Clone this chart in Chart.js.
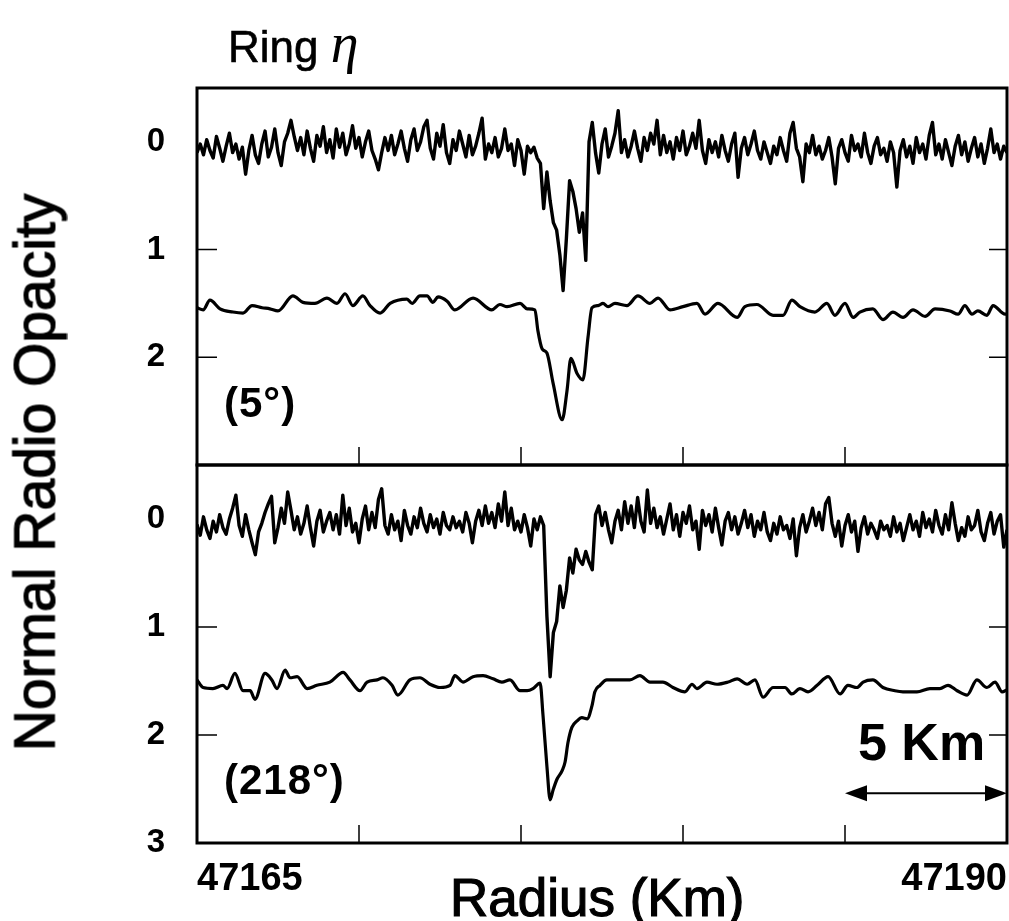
<!DOCTYPE html>
<html>
<head>
<meta charset="utf-8">
<title>Ring eta - normal radio opacity</title>
<script src="https://cdn.jsdelivr.net/npm/chart.js@4.4.1/dist/chart.umd.min.js"></script>
<style>
    body {
        margin: 0;
        width: 1009px;
        height: 921px;
        overflow: hidden;
        position: relative;
        background: #fff;
        color: #000;
        font-family: "Liberation Sans", Arial, sans-serif;
    }
    canvas { position: absolute; left: 0; }
    #topPanel { top: 0; }
    #bottomPanel { top: 440px; }
    .txt { position: absolute; white-space: nowrap; line-height: 1; }
    #ringTitle { left: 228px; top: 15px; font-size: 44px; -webkit-text-stroke: 0.6px #000; }
    #ringTitle i { font-family: "Liberation Serif", serif; font-size: 56px; -webkit-text-stroke: 0; }
    #yTitle {
        left: -315px; top: 444px; width: 700px; text-align: center;
        font-size: 57px; transform: rotate(-90deg); -webkit-text-stroke: 1.2px #000;
    }
    #xTitle { left: 450px; top: 871px; font-size: 53px; -webkit-text-stroke: 1.2px #000; }
    .panelTag { left: 224px; font-size: 42px; font-weight: bold; letter-spacing: 1px; }
    #tag5 { top: 382px; }
    #tag218 { top: 759px; }
    #barLabel { left: 858px; top: 716px; font-size: 52px; font-weight: bold; }
</style>
</head>
<body>
<canvas id="topPanel" width="1009" height="490"></canvas>
<canvas id="bottomPanel" width="1009" height="481"></canvas>

<div class="txt" id="ringTitle">Ring <i>η</i></div>
<div class="txt" id="yTitle">Normal Radio Opacity</div>
<div class="txt" id="xTitle">Radius (Km)</div>
<div class="txt panelTag" id="tag5">(5°)</div>
<div class="txt panelTag" id="tag218">(218°)</div>
<div class="txt" id="barLabel">5 Km</div>

<script>
// radius axis (km)
const radiusStart = 47165;
const radiusEnd = 47190;
const radiusTicks = [47165, 47170, 47175, 47180, 47185, 47190];
const radiusLabels = [47165, 47190];
const opacityTicksTop = [0, 1, 2];
const opacityTicksBottom = [0, 1, 2, 3];
const innerTickValues = [1, 2];

// noisy traces, sampled every 0.1 km from 47165
const noisyStep = 0.1;
const noisy5 = [
    0.10, 0.02, 0.12, -0.02, 0.08, 0.15, -0.05, 0.06, 0.18, 0.04,
    -0.08, 0.10, 0.02, 0.16, 0.05, 0.30, 0.08, -0.06, 0.12, 0.20,
    0.02, -0.10, 0.14, 0.05, -0.12, 0.10, 0.22, 0.00, -0.08, -0.20,
    -0.05, 0.08, -0.04, 0.12, -0.10, 0.06, 0.18, -0.06, 0.04, -0.14,
    0.10, -0.02, 0.15, -0.12, 0.05, -0.08, 0.12, 0.02, -0.15, 0.06,
    -0.04, 0.14, 0.00, -0.10, 0.08, 0.16, 0.26, 0.10, -0.04, 0.08,
    -0.06, 0.12, 0.02, -0.10, 0.06, 0.18, -0.02, -0.12, 0.08, 0.00,
    -0.14, -0.20, 0.06, 0.16, -0.08, 0.04, -0.16, 0.10, 0.20, -0.02,
    0.08, -0.10, 0.02, 0.14, -0.06, 0.12, 0.04, -0.08, -0.22, 0.16,
    0.02, 0.10, -0.04, 0.14, 0.06, -0.12, 0.08, 0.02, 0.22, -0.02,
    0.08, 0.30, 0.04, 0.10, 0.05, 0.15, 0.20, 0.62, 0.28, 0.55,
    0.75, 0.82, 1.05, 1.38, 0.90, 0.36, 0.46, 0.62, 0.84, 0.66,
    1.10, 0.00, -0.18, 0.10, 0.29, 0.02, -0.12, 0.14, 0.04, -0.08,
    -0.29, 0.10, -0.02, 0.14, 0.04, -0.10, 0.06, 0.18, -0.04, 0.08,
    -0.08, 0.02, -0.20, 0.12, -0.06, 0.10, 0.00, 0.16, -0.04, 0.08,
    -0.10, 0.12, 0.04, -0.08, 0.06, -0.20, 0.08, 0.20, -0.02, 0.10,
    0.00, 0.14, -0.06, 0.08, 0.18, 0.02, -0.08, 0.33, 0.06, -0.04,
    0.12, 0.02, -0.10, 0.08, 0.16, 0.00, 0.10, 0.20, 0.04, 0.12,
    -0.04, 0.08, 0.18, -0.08, -0.18, 0.06, 0.14, 0.37, 0.02, 0.10,
    -0.06, 0.12, 0.04, 0.16, 0.08, -0.04, 0.14, 0.39, 0.06, -0.02,
    0.10, 0.18, -0.06, 0.08, 0.02, 0.14, -0.08, 0.10, 0.20, 0.04,
    -0.04, 0.12, 0.06, 0.18, 0.00, 0.10, 0.42, 0.08, -0.02, 0.14,
    0.04, 0.20, -0.04, 0.10, 0.02, 0.16, -0.06, -0.18, 0.12, 0.02,
    0.16, -0.02, 0.10, 0.22, 0.04, -0.06, 0.12, 0.00, 0.18, 0.06,
    -0.04, 0.14, 0.02, 0.20, 0.06, -0.12, 0.10, 0.02, 0.16, 0.04,
    0.10
];
const noisy218 = [
    0.05, 0.15, -0.02, 0.10, 0.18, 0.02, 0.12, -0.04, 0.08, 0.14,
    0.00, -0.10, -0.22, 0.06, 0.16, -0.04, 0.10, 0.22, 0.33, 0.12,
    0.04, -0.06, -0.14, -0.21, 0.22, 0.08, -0.10, 0.04, -0.25, -0.08,
    0.10, -0.02, 0.14, 0.04, -0.12, 0.08, 0.25, 0.02, -0.08, 0.12,
    0.02, -0.06, 0.10, -0.04, 0.14, -0.22, 0.06, -0.10, 0.12, 0.04,
    0.22, 0.00, -0.12, 0.10, -0.06, 0.08, -0.18, -0.28, 0.06, 0.14,
    -0.04, 0.10, 0.02, 0.20, -0.08, 0.06, 0.14, -0.02, 0.08, -0.10,
    0.04, 0.12, -0.04, 0.08, 0.00, 0.14, -0.06, 0.06, 0.10, -0.02,
    0.08, 0.02, 0.12, -0.06, 0.04, 0.22, 0.02, -0.08, 0.06, -0.12,
    0.04, -0.06, 0.08, -0.14, 0.02, -0.25, 0.06, -0.10, 0.10, 0.02,
    0.12, -0.04, 0.08, 0.25, 0.00, 0.10, -0.02, 0.06, 0.90, 1.46,
    1.05, 0.95, 0.62, 0.82, 0.66, 0.36, 0.50, 0.28, 0.38, 0.42,
    0.30, 0.40, 0.47, -0.04, -0.12, 0.06, -0.06, 0.10, 0.22, 0.02,
    -0.08, 0.10, -0.16, 0.04, -0.12, 0.08, -0.20, 0.02, 0.12, -0.27,
    0.04, -0.10, 0.08, -0.02, 0.14, 0.00, -0.14, 0.10, -0.04, 0.16,
    -0.06, 0.04, -0.12, 0.10, 0.02, 0.28, -0.08, 0.06, -0.04, 0.12,
    -0.10, 0.08, 0.24, 0.02, -0.06, 0.10, -0.02, 0.14, 0.04, -0.08,
    0.08, -0.04, 0.16, 0.02, 0.10, -0.06, 0.12, 0.20, 0.04, 0.14,
    -0.02, 0.10, 0.06, 0.18, 0.00, 0.34, 0.08, -0.04, 0.12, 0.02,
    -0.10, 0.06, -0.06, 0.10, -0.14, -0.20, 0.04, 0.16, 0.02, 0.25,
    0.06, -0.04, 0.12, 0.02, 0.30, 0.08, -0.02, 0.14, 0.04, 0.10,
    0.18, 0.02, 0.10, 0.06, 0.16, -0.02, 0.12, 0.04, 0.20, 0.08,
    -0.04, 0.10, 0.02, 0.16, -0.06, 0.08, 0.00, 0.12, -0.08, 0.06,
    0.14, -0.04, 0.10, -0.15, 0.04, 0.20, 0.08, 0.16, -0.02, 0.10,
    0.06, -0.08, 0.12, 0.20, 0.04, -0.06, 0.14, 0.02, -0.04, 0.26,
    0.10
];

// smoothed traces: km from 47165, and opacity
const smooth5Km = [
    0, 0.19, 0.40, 0.71, 1.11, 1.42, 1.70, 2.01, 2.25, 2.50,
    2.96, 3.27, 3.64, 4.01, 4.32, 4.57, 4.81, 5.12, 5.34, 5.65,
    5.96, 6.48, 6.64, 6.88, 7.10, 7.28, 7.44, 7.72, 7.96, 8.52,
    9.10, 9.35, 9.57, 9.97, 10.19, 10.43, 10.52, 10.65, 10.80, 10.99,
    11.27, 11.42, 11.54, 11.73, 11.91, 12.07, 12.19, 12.38, 12.53, 12.69,
    12.90, 13.27, 13.61, 13.98, 14.23, 14.60, 15.00, 15.43, 15.68, 16.08,
    16.67, 16.91, 17.28, 17.78, 18.09, 18.36, 18.61, 19.07, 19.44, 19.69,
    20.00, 20.25, 20.46, 20.86, 21.17, 21.48, 21.79, 22.10, 22.47, 22.78,
    23.24, 23.49, 23.70, 23.92, 24.10, 24.38, 24.57, 24.94, 25.00
];
const smooth5 = [
    1.54, 1.56, 1.47, 1.55, 1.58, 1.59, 1.52, 1.54, 1.55, 1.57,
    1.43, 1.49, 1.50, 1.45, 1.50, 1.41, 1.52, 1.43, 1.52, 1.59,
    1.50, 1.46, 1.50, 1.43, 1.43, 1.49, 1.44, 1.48, 1.56, 1.45,
    1.56, 1.51, 1.53, 1.50, 1.55, 1.56, 1.75, 1.92, 1.96, 2.24,
    2.58, 2.31, 2.01, 2.15, 2.21, 1.81, 1.54, 1.52, 1.50, 1.53,
    1.50, 1.52, 1.43, 1.50, 1.45, 1.56, 1.53, 1.50, 1.60, 1.50,
    1.63, 1.53, 1.51, 1.61, 1.61, 1.47, 1.53, 1.58, 1.50, 1.61,
    1.50, 1.63, 1.58, 1.55, 1.65, 1.58, 1.63, 1.56, 1.62, 1.55,
    1.57, 1.60, 1.52, 1.60, 1.57, 1.61, 1.52, 1.60, 1.60
];
const smooth218Km = [
    0, 0.19, 0.49, 0.80, 0.93, 1.17, 1.42, 1.64, 1.79, 2.10,
    2.31, 2.47, 2.72, 2.87, 3.09, 3.40, 3.70, 4.10, 4.51, 4.72,
    5.03, 5.25, 5.56, 5.74, 6.02, 6.20, 6.57, 6.88, 7.19, 7.50,
    7.81, 7.96, 8.21, 8.52, 8.83, 9.14, 9.41, 9.66, 9.97, 10.19,
    10.37, 10.59, 10.68, 10.80, 10.90, 10.99, 11.11, 11.27, 11.36, 11.45,
    11.57, 11.73, 11.88, 12.04, 12.19, 12.28, 12.44, 12.65, 12.75, 12.99,
    13.36, 13.67, 13.98, 14.38, 14.69, 15.06, 15.28, 15.43, 15.74, 16.05,
    16.39, 16.67, 16.98, 17.22, 17.47, 17.78, 18.15, 18.36, 18.61, 18.86,
    19.14, 19.48, 19.85, 20.09, 20.37, 20.56, 20.86, 21.17, 21.54, 21.79,
    22.22, 22.62, 22.93, 23.18, 23.46, 23.77, 24.07, 24.38, 24.63, 24.85, 25.00
];
const smooth218 = [
    1.49, 1.56, 1.57, 1.54, 1.57, 1.43, 1.59, 1.59, 1.67, 1.43,
    1.49, 1.57, 1.40, 1.47, 1.46, 1.57, 1.54, 1.51, 1.42, 1.49,
    1.59, 1.51, 1.49, 1.47, 1.54, 1.63, 1.49, 1.47, 1.53, 1.56,
    1.54, 1.45, 1.51, 1.46, 1.45, 1.48, 1.51, 1.49, 1.59, 1.59,
    1.57, 1.52, 1.82, 2.29, 2.60, 2.51, 2.41, 2.33, 2.25, 2.07,
    1.93, 1.87, 1.84, 1.85, 1.73, 1.60, 1.54, 1.49, 1.49, 1.49,
    1.49, 1.45, 1.51, 1.51, 1.56, 1.60, 1.53, 1.57, 1.51, 1.53,
    1.51, 1.48, 1.53, 1.49, 1.65, 1.56, 1.56, 1.62, 1.57, 1.60,
    1.54, 1.46, 1.62, 1.54, 1.56, 1.51, 1.49, 1.56, 1.59, 1.60,
    1.60, 1.57, 1.57, 1.54, 1.59, 1.63, 1.49, 1.56, 1.51, 1.60, 1.58
];

// 5 km scale bar in the lower panel
const scaleBar = { from: 47185, to: 47190, at: 2.54 };

document.addEventListener("DOMContentLoaded", function () {
    const family = "'Liberation Sans', Arial, sans-serif";

    const noisyPoints = vals => vals.map((v, i) => ({ x: radiusStart + i * noisyStep, y: v }));
    const smoothPoints = (km, vals) => vals.map((v, i) => ({ x: radiusStart + km[i], y: v }));

    const traceSets = (noisy, km, smooth) => [
        { data: noisyPoints(noisy), borderColor: '#000', borderWidth: 3.4, pointRadius: 0, tension: 0, borderJoinStyle: 'round' },
        { data: smoothPoints(km, smooth), borderColor: '#000', borderWidth: 3.2, pointRadius: 0, cubicInterpolationMode: 'monotone' }
    ];

    // box round the panel plus the small inward ticks
    const panelFrame = {
        id: 'panelFrame',
        afterDatasetsDraw(chart) {
            const { ctx, chartArea: a, scales: { x, y } } = chart;
            ctx.save();
            ctx.strokeStyle = '#000';
            ctx.lineWidth = 3;
            ctx.strokeRect(a.left, a.top, a.right - a.left, a.bottom - a.top);
            ctx.lineWidth = 1.5;
            ctx.beginPath();
            radiusTicks.slice(1, -1).forEach(v => {
                const px = x.getPixelForValue(v);
                ctx.moveTo(px, a.bottom);
                ctx.lineTo(px, a.bottom - 18);
            });
            innerTickValues.forEach(v => {
                const py = y.getPixelForValue(v);
                ctx.moveTo(a.left, py);
                ctx.lineTo(a.left + 20, py);
                ctx.moveTo(a.right, py);
                ctx.lineTo(a.right - 18, py);
            });
            ctx.stroke();
            ctx.restore();
        }
    };

    const barArrow = {
        id: 'barArrow',
        afterDatasetsDraw(chart) {
            const { ctx, scales: { x, y } } = chart;
            const x0 = x.getPixelForValue(scaleBar.from);
            const x1 = x.getPixelForValue(scaleBar.to);
            const yy = y.getPixelForValue(scaleBar.at);
            ctx.save();
            ctx.strokeStyle = '#000';
            ctx.fillStyle = '#000';
            ctx.lineWidth = 2;
            ctx.beginPath();
            ctx.moveTo(x0 + 10, yy);
            ctx.lineTo(x1 - 10, yy);
            ctx.stroke();
            ctx.beginPath();
            ctx.moveTo(x0, yy); ctx.lineTo(x0 + 22, yy - 8); ctx.lineTo(x0 + 22, yy + 8); ctx.closePath();
            ctx.moveTo(x1, yy); ctx.lineTo(x1 - 22, yy - 8); ctx.lineTo(x1 - 22, yy + 8); ctx.closePath();
            ctx.fill();
            ctx.restore();
        }
    };

    const opacityAxis = tickValues => ({
        min: -0.5,
        max: 3,
        reverse: true,
        border: { display: false },
        grid: { display: true, drawOnChartArea: false, drawTicks: true, tickLength: 32, tickColor: 'rgba(0,0,0,0)' },
        afterBuildTicks: s => { s.ticks = tickValues.map(v => ({ value: v })); },
        afterFit: s => { s.width = 197; },
        ticks: {
            padding: 0,
            color: '#000',
            font: { family: family, size: 33, weight: 'bold' },
            callback: v => String(v)
        }
    });

    const baseOptions = (padding, xAxis, yTicks) => ({
        responsive: false,
        animation: false,
        events: [],
        layout: { padding: padding },
        plugins: { legend: { display: false }, tooltip: { enabled: false } },
        scales: { x: xAxis, y: opacityAxis(yTicks) }
    });

    new Chart(document.getElementById('topPanel').getContext('2d'), {
        type: 'line',
        data: { datasets: traceSets(noisy5, smooth5Km, smooth5) },
        options: baseOptions(
            { top: 88, right: 2, bottom: 25, left: 0 },
            { type: 'linear', min: radiusStart, max: radiusEnd, display: false },
            opacityTicksTop
        ),
        plugins: [panelFrame]
    });

    new Chart(document.getElementById('bottomPanel').getContext('2d'), {
        type: 'line',
        data: { datasets: traceSets(noisy218, smooth218Km, smooth218) },
        options: baseOptions(
            { top: 25, right: 2, bottom: 0, left: 0 },
            {
                type: 'linear',
                min: radiusStart,
                max: radiusEnd,
                border: { display: false },
                grid: { display: true, drawOnChartArea: false, drawTicks: true, tickLength: 14, tickColor: 'rgba(0,0,0,0)' },
                afterBuildTicks: s => { s.ticks = radiusLabels.map(v => ({ value: v })); },
                afterFit: s => { s.height = 78; },
                ticks: {
                    align: 'inner',
                    padding: 0,
                    autoSkip: false,
                    maxRotation: 0,
                    color: '#000',
                    font: { family: family, size: 38, weight: 'bold' },
                    callback: v => String(v)
                }
            },
            opacityTicksBottom
        ),
        plugins: [panelFrame, barArrow]
    });
});
</script>
</body>
</html>
